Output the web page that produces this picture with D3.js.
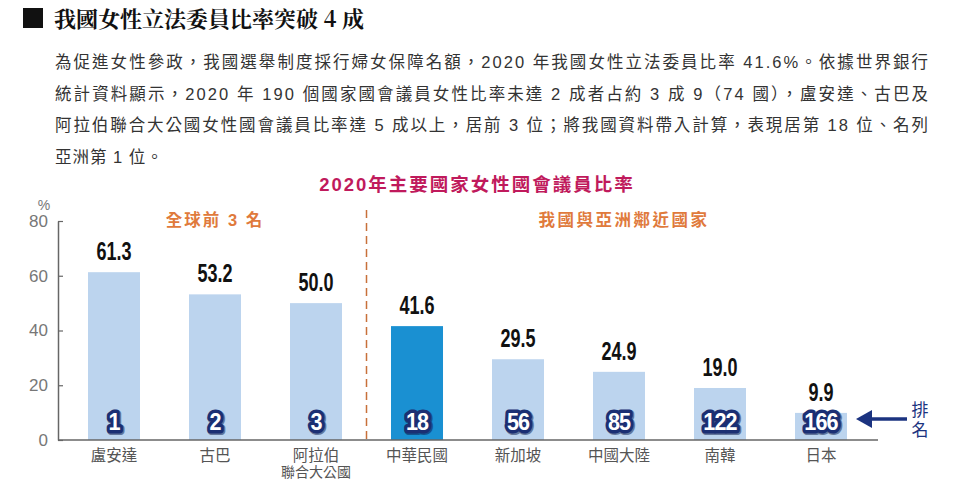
<!DOCTYPE html>
<html><head><meta charset="utf-8">
<script src="https://cdn.jsdelivr.net/npm/d3@7"></script>
<style>
body{margin:0;background:#fff;}
svg{display:block;}
text{font-family:"Liberation Sans","Noto Sans CJK TC",sans-serif;}
</style></head>
<body><svg id="c" width="960" height="479"></svg>
<script>
const categories = ["盧安達","古巴","阿拉伯\n聯合大公國","中華民國","新加坡","中國大陸","南韓","日本"];
const values = [61.3,53.2,50.0,41.6,29.5,24.9,19.0,9.9];
const ranks = [1,2,3,18,56,85,122,166];
const highlight = "中華民國";
const yTicks = [0,20,40,60,80];
const groupLabels = ["全球前 3 名","我國與亞洲鄰近國家"];
const pageTitle = "我國女性立法委員比率突破 4 成";
const paragraph = [
 "為促進女性參政，我國選舉制度採行婦女保障名額，2020 年我國女性立法委員比率 41.6%。依據世界銀行",
 "統計資料顯示，2020 年 190 個國家國會議員女性比率未達 2 成者占約 3 成 9（74 國），盧安達、古巴及",
 "阿拉伯聯合大公國女性國會議員比率達 5 成以上，居前 3 位；將我國資料帶入計算，表現居第 18 位、名列",
 "亞洲第 1 位。"
];
const chartTitle = "2020年主要國家女性國會議員比率";

const svg = d3.select("#c");

// header
svg.append("rect").attr("x",23).attr("y",8).attr("width",20).attr("height",20).attr("fill","#111");
svg.append("text").attr("x",54).attr("y",27).text(pageTitle)
  .attr("font-size",22).attr("font-weight",700).attr("fill","#111")
  .style("font-family","'Noto Serif CJK TC','Liberation Serif','Noto Sans CJK TC',serif");
paragraph.forEach((line,i)=>{
  const t = svg.append("text").attr("x",55).attr("y",68+i*31.5).text(line)
    .attr("font-size",16.5).attr("fill","#333");
  if(i<3) t.attr("textLength",873).attr("lengthAdjust","spacing");
  else t.attr("letter-spacing",1);
});

// chart title
svg.append("text").attr("x",477).attr("y",191).attr("text-anchor","middle")
  .text(chartTitle).attr("font-size",18.5).attr("font-weight",700)
  .attr("letter-spacing",2).attr("fill","#c01a5c");

const y = d3.scaleLinear().domain([0,80]).range([440,221]);
const x = d3.scaleBand().domain(categories).range([63.5,871.5]).paddingInner(0.485).paddingOuter(0.2425);

// bars
svg.append("g").selectAll("rect").data(categories).join("rect")
  .attr("x",d=>x(d)).attr("width",x.bandwidth())
  .attr("y",(d,i)=>y(values[i])).attr("height",(d,i)=>y(0)-y(values[i]))
  .attr("fill",d=>d===highlight?"#1a90d2":"#bcd4ee");

// y axis
const yAxis = d3.axisLeft(y).tickValues(yTicks).tickSize(-5).tickPadding(10).tickSizeOuter(0);
const ga = svg.append("g").attr("transform","translate(58,0)").call(yAxis);
ga.select(".domain").attr("stroke","#666").attr("stroke-width",1.5);
ga.selectAll(".tick line").attr("stroke","#666").attr("stroke-width",1.2);
ga.selectAll(".tick text").attr("font-size",17).attr("fill","#777")
  .style("font-family","'Liberation Sans',Arial,sans-serif");
svg.append("text").attr("x",44).attr("y",210).attr("text-anchor","middle").text("%")
  .attr("font-size",14).attr("fill","#777").style("font-family","'Liberation Sans',Arial,sans-serif");

// baseline
svg.append("line").attr("x1",58).attr("x2",878).attr("y1",y(0)).attr("y2",y(0))
  .attr("stroke","#666").attr("stroke-width",1.5);

// category labels
const cl = svg.append("g").selectAll("text").data(categories).join("text")
  .attr("x",d=>x(d)+x.bandwidth()/2).attr("y",461).attr("text-anchor","middle")
  .attr("font-size",15.5).attr("fill","#555");
cl.each(function(d){
  const parts = d.split("\n");
  d3.select(this).selectAll("tspan").data(parts).join("tspan")
    .attr("x",x(d)+x.bandwidth()/2).attr("dy",(p,i)=>i?15.5:0)
    .attr("font-size",(p,i)=>i?14:15.5).text(p=>p);
});

// value labels
svg.append("g").selectAll("text").data(categories).join("text")
  .attr("transform",(d,i)=>`translate(${x(d)+x.bandwidth()/2},${y(values[i])-12}) scale(0.68,1)`)
  .attr("text-anchor","middle").text((d,i)=>values[i].toFixed(1))
  .attr("font-size",26.5).attr("font-weight",700).attr("fill","#111")
  .style("font-family","'Liberation Sans',Arial,sans-serif");

// rank badges
const rg = svg.append("g");
rg.selectAll("text.sh").data(categories).join("text").attr("class","sh")
  .attr("transform",d=>`translate(${x(d)+x.bandwidth()/2+1},${430.5}) scale(0.9,1)`)
  .attr("text-anchor","middle").text((d,i)=>ranks[i])
  .attr("font-size",24).attr("font-weight",700).attr("letter-spacing",-1)
  .attr("fill","#0b1a4a").attr("stroke","#0b1a4a").attr("stroke-width",8).attr("stroke-linejoin","round")
  .attr("opacity",0.5)
  .style("font-family","'Liberation Sans',Arial,sans-serif");
rg.selectAll("text.fg").data(categories).join("text").attr("class","fg")
  .attr("transform",d=>`translate(${x(d)+x.bandwidth()/2},${429.5}) scale(0.9,1)`)
  .attr("text-anchor","middle").text((d,i)=>ranks[i])
  .attr("font-size",24).attr("font-weight",700).attr("letter-spacing",-1)
  .attr("fill","#fff").attr("stroke","#1b2f73").attr("stroke-width",7).attr("stroke-linejoin","round")
  .style("paint-order","stroke")
  .style("font-family","'Liberation Sans',Arial,sans-serif");

// divider
const divX = (x(categories[2])+x.bandwidth()+x(categories[3]))/2;
svg.append("line").attr("x1",divX).attr("x2",divX).attr("y1",210).attr("y2",440)
  .attr("stroke","#c8703a").attr("stroke-width",1.5).attr("stroke-dasharray","8,5");

// group labels
svg.append("text").attr("x",(x(categories[0])+x(categories[2])+x.bandwidth())/2).attr("y",226)
  .attr("text-anchor","middle").text(groupLabels[0]).attr("font-size",16.5).attr("font-weight",700)
  .attr("letter-spacing",2).attr("fill","#e07a3c");
svg.append("text").attr("x",624).attr("y",226)
  .attr("text-anchor","middle").text(groupLabels[1]).attr("font-size",16.5).attr("font-weight",700)
  .attr("letter-spacing",2.5).attr("fill","#e07a3c");

// rank arrow
svg.append("line").attr("x1",868).attr("x2",907).attr("y1",419).attr("y2",419)
  .attr("stroke","#1b3380").attr("stroke-width",3.5);
svg.append("path").attr("d","M856,419 L872,410 L872,428 Z").attr("fill","#1b3380");
svg.append("text").attr("x",920).attr("y",416).attr("text-anchor","middle").text("排")
  .attr("font-size",17).attr("fill","#1b3380");
svg.append("text").attr("x",920).attr("y",436).attr("text-anchor","middle").text("名")
  .attr("font-size",17).attr("fill","#1b3380");
</script></body></html>
